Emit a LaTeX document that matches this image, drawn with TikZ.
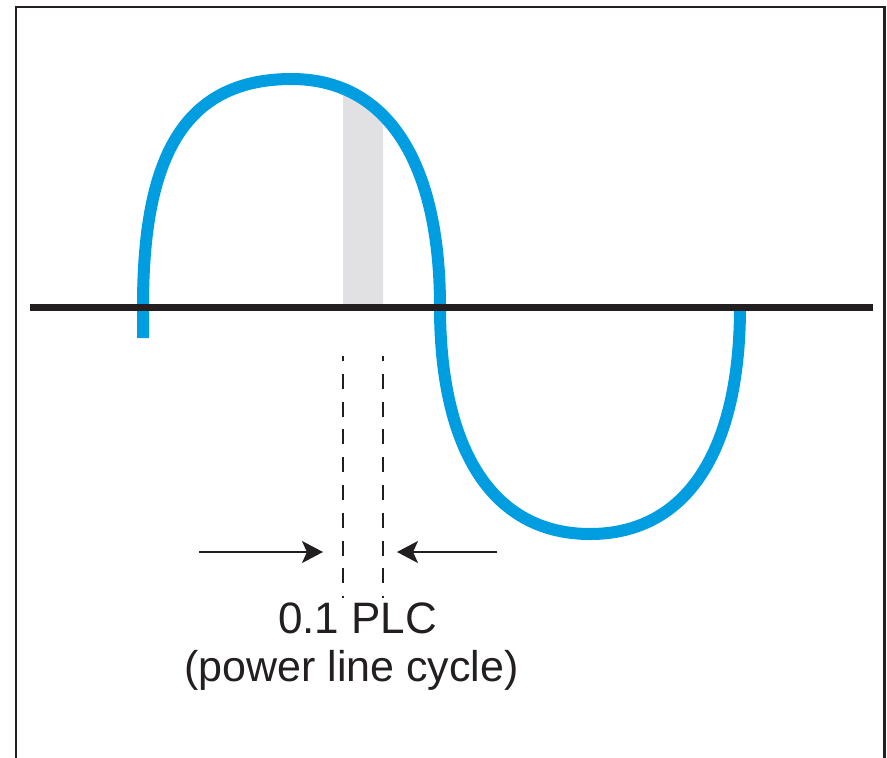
\documentclass[tikz,border=0pt]{standalone}
\usepackage{fontspec}
\setmainfont{Liberation Sans}
\usetikzlibrary{arrows.meta}
\definecolor{wave}{RGB}{0,158,224}
\definecolor{band}{RGB}{225,225,227}
\definecolor{ink}{RGB}{35,31,32}
\tikzset{
  frameline/.style={draw=ink,line width=2.5pt},
  axisline/.style={draw=ink,line width=7pt},
  waveline/.style={draw=wave,line width=12pt,line cap=butt},
  guide/.style={draw=ink,line width=2pt,dash pattern=on 15pt off 12.8pt,dash phase=10pt},
  pointer/.style={draw=ink,line width=2pt,-{Stealth[length=21pt,width=22pt,inset=5pt]}},
  label/.style={inner sep=0pt,text=ink}
}
\begin{document}
\begin{tikzpicture}[x=1pt,y=-1pt]
\path[use as bounding box] (0,0) rectangle (887,758);
% frame
\draw[frameline] (16,770) -- (16,7) -- (884.5,7) -- (884.5,770);
% gray band under the crest
\begin{scope}
\clip (343,0) rectangle (383,307);
\fill[band] (143,307) .. controls (143,170) and (176,79) .. (291.5,79)
  .. controls (386.5,79) and (440,161) .. (440,307) -- cycle;
\end{scope}
% wave
\draw[waveline] (143,338) -- (143,307)
  .. controls (143,170) and (176,79) .. (291.5,79)
  .. controls (386.5,79) and (440,161) .. (440,307)
  .. controls (440,452) and (494,534) .. (590,534)
  .. controls (686,534) and (740,452) .. (740,307);
% axis
\coordinate (axL) at (30,307);
\coordinate (axR) at (873,307);
\draw[axisline] (axL) -- (axR);
% guides
\coordinate (g1t) at (343,356);
\coordinate (g1b) at (343,598);
\coordinate (g2t) at (383,356);
\coordinate (g2b) at (383,598);
\draw[guide] (g1t) -- (g1b);
\draw[guide] (g2t) -- (g2b);
% arrows
\coordinate (a1s) at (199,552);
\coordinate (a1e) at (323,552);
\coordinate (a2s) at (497,552);
\coordinate (a2e) at (397,552);
\draw[pointer] (a1s) -- (a1e);
\draw[pointer] (a2s) -- (a2e);
% labels
\node[label,anchor=base west,font=\fontsize{44}{50}\selectfont] (plc) at (278,633) {0.1 PLC};
\node[label,anchor=base west,font=\fontsize{43}{50}\selectfont] (desc) at (184,681) {(power line cycle)};
\end{tikzpicture}
\end{document}
